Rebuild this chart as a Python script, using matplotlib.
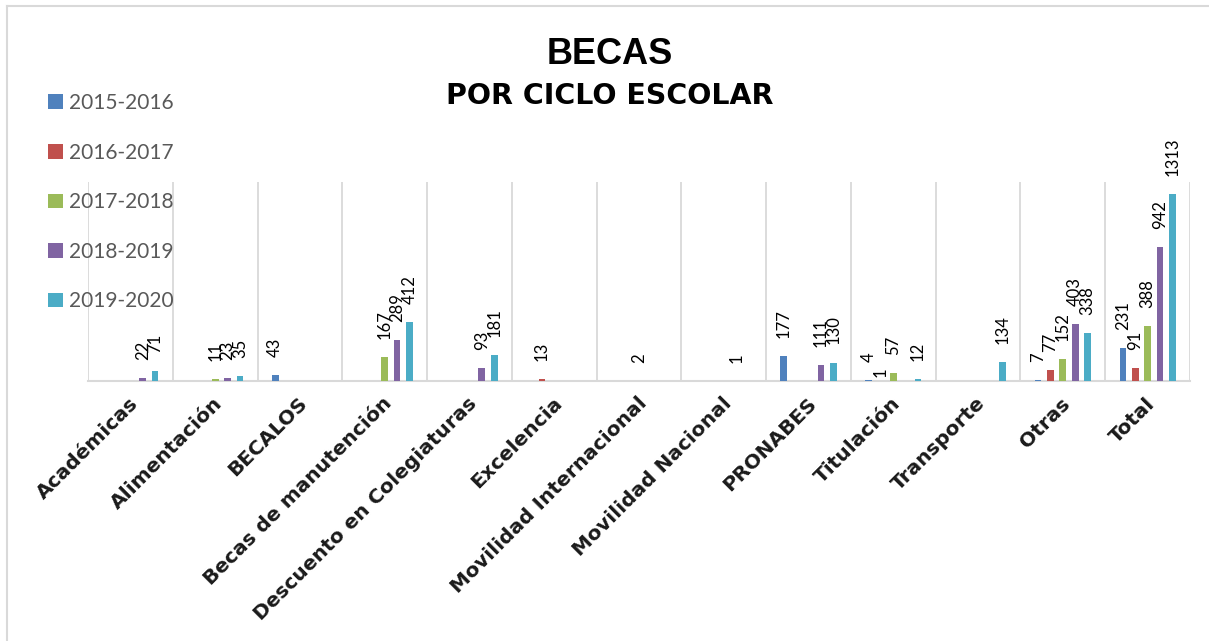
import numpy as np
import matplotlib
matplotlib.use("Agg")
import matplotlib.pyplot as plt
from matplotlib.patches import Patch
from matplotlib.lines import Line2D
from matplotlib.transforms import ScaledTranslation

categories = ["Académicas", "Alimentación", "BECALOS", "Becas de manutención",
              "Descuento en Colegiaturas", "Excelencia", "Movilidad Internacional",
              "Movilidad Nacional", "PRONABES", "Titulación", "Transporte", "Otras", "Total"]
ciclos = ["2015-2016", "2016-2017", "2017-2018", "2018-2019", "2019-2020"]

# None = no scholarships reported in that cycle (no bar, no label)
becas_2015 = [None, None, 43, None, None, None, None, None, 177, 4, None, 7, 231]
becas_2016 = [None, None, None, None, None, 13, None, None, None, 1, None, 77, 91]
becas_2017 = [None, 11, None, 167, None, None, 2, None, None, 57, None, 152, 388]
becas_2018 = [22, 23, None, 289, 93, None, None, 1, 111, None, None, 403, 942]
becas_2019 = [71, 35, None, 412, 181, None, None, None, 130, 12, 134, 338, 1313]

series = [becas_2015, becas_2016, becas_2017, becas_2018, becas_2019]
colors = ["#4F81BD", "#C0504D", "#9BBB59", "#8064A2", "#4BACC6"]

W, H = 1209, 641
fig = plt.figure(figsize=(W / 100, H / 100), dpi=100)
ax = fig.add_axes([88 / W, 1 - 381 / H, (1190 - 88) / W, (381 - 182) / H])

x = np.arange(len(categories))
step, width = 0.146, 0.079
value_labels = []
for k, (vals, col) in enumerate(zip(series, colors)):
    v = np.array([0 if a is None else a for a in vals], dtype=float)
    bars = ax.bar(x + (k - 2) * step, v, width, color=col, zorder=3)
    labels = ["" if a is None else str(a) for a in vals]
    value_labels.append(ax.bar_label(bars, labels=labels, rotation=90, padding=13,
                                     fontsize=12, family=["Lato", "DejaVu Sans"],
                                     color="#000000"))

# the "1" of Titulación 2016-2017 sits lower so it clears the "4" beside it
value_labels[1][categories.index("Titulación")].xyann = (0, 3)

ax.set_xlim(-0.5, len(categories) - 0.5)
ax.set_ylim(0, 1400)
ax.set_yticks([])
for s in ("top", "left", "right"):
    ax.spines[s].set_visible(False)
ax.spines["bottom"].set_color("#d9d9d9")
ax.spines["bottom"].set_linewidth(1.5)

# vertical separators between categories
ax.set_xticks(np.arange(-0.5, len(categories)), minor=True)
ax.grid(which="minor", axis="x", color="#d9d9d9", lw=1.3, zorder=0)
ax.tick_params(which="both", length=0)

ax.set_xticks(x)
ax.set_xticklabels(categories, rotation=45, ha="right", va="top",
                   rotation_mode="anchor", fontsize=14.5, fontweight="bold",
                   family="DejaVu Sans", color="#1a1a1a")
shift = ScaledTranslation(-2 / 100, -8 / 100, fig.dpi_scale_trans)
for lab in ax.get_xticklabels():
    lab.set_transform(lab.get_transform() + shift)

handles = [Patch(facecolor=c, edgecolor="none") for c in colors]
fig.legend(handles, ciclos, loc="upper left", bbox_to_anchor=(48 / W, 1 - 93 / H),
           frameon=False, labelspacing=1.42, handlelength=0.7,
           handleheight=0.7, handletextpad=0.3, borderpad=0, borderaxespad=0,
           prop={"family": ["Lato", "DejaVu Sans"], "size": 15}, labelcolor="#595959")

fig.text(610 / W, 1 - 55 / H, "BECAS", ha="center", va="center",
         fontsize=26, fontweight="bold", family="Liberation Sans")
fig.text(610 / W, 1 - 96 / H, "POR CICLO ESCOLAR", ha="center", va="center",
         fontsize=20.5, fontweight="bold", family="DejaVu Sans")

# outer chart frame (left and top edges)
fig.add_artist(Line2D([7 / W, 7 / W], [0, 1 - 6 / H], color="#d9d9d9", lw=1.5))
fig.add_artist(Line2D([7 / W, 1], [1 - 6 / H, 1 - 6 / H], color="#d9d9d9", lw=1.5))

fig.savefig("out.png", dpi=100)
